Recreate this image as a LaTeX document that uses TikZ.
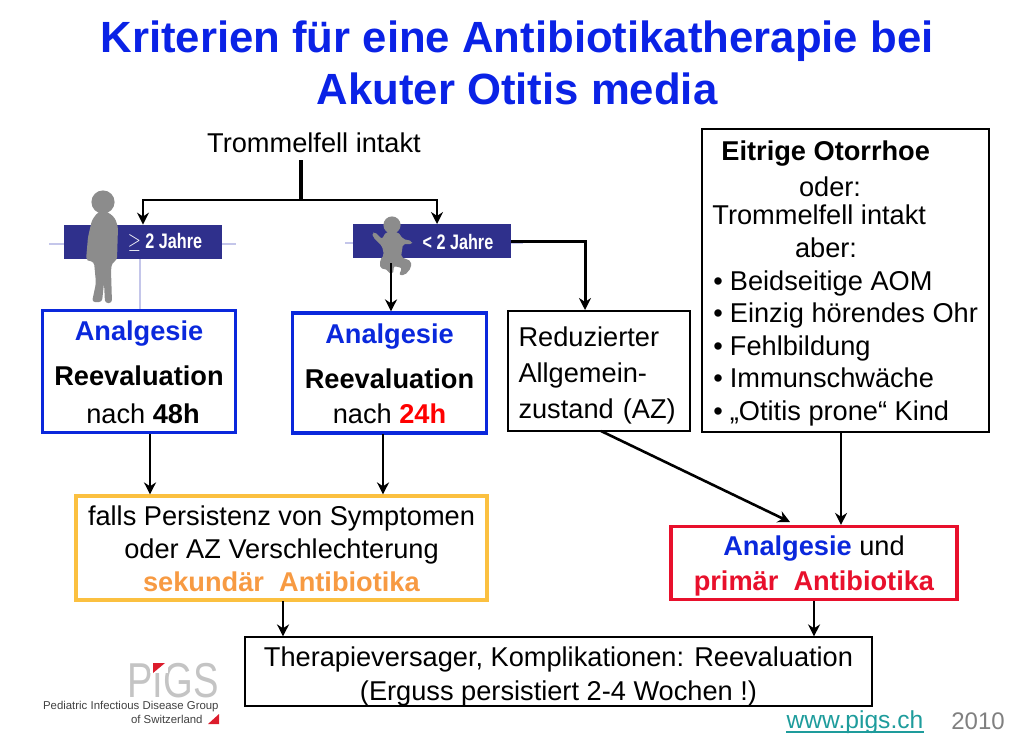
\documentclass[tikz,border=0pt]{standalone}
\usepackage{fontspec}
\setmainfont{Liberation Sans}
\usetikzlibrary{arrows.meta}
\definecolor{titleblue}{HTML}{0A22E6}
\definecolor{boxblue}{HTML}{0A28DC}
\definecolor{bannerblue}{HTML}{2F308C}
\definecolor{fadeblue}{HTML}{C4C6EA}
\definecolor{boxyellow}{HTML}{FBC040}
\definecolor{textorange}{HTML}{F79A42}
\definecolor{boxred}{HTML}{E8102C}
\definecolor{figgray}{HTML}{8C8C8C}
\definecolor{logogray}{HTML}{C4C4C4}
\definecolor{logored}{HTML}{DC1C2C}
\definecolor{linkteal}{HTML}{1E9C9C}
\newcommand{\pushdown}[1]{\rule{0pt}{\dimexpr 10pt+#1\relax}}
\tikzset{
    every node/.style={font=\fontsize{13.6}{16.5}\selectfont, inner sep=0pt},
    conn/.style={-{Stealth[length=6pt,width=6pt]}, line width=1.3pt, black},
    thinbox/.style={draw=black, line width=0.6pt},
    bluebox/.style={draw=boxblue, line width=1.6pt, align=center},
    banner/.style={fill=bannerblue, minimum width=79pt, minimum height=17pt, text=white},
    bannertext/.style={font=\fontsize{10.5}{12}\bfseries\selectfont, text=white}
}

\begin{document}
\begin{tikzpicture}[x=0.5pt, y=-0.5pt]
    \useasboundingbox (0,0) rectangle (1020,751);

    % Title
    \node[font=\fontsize{21.85}{26}\bfseries\selectfont, text=titleblue, align=center] (title) at (517,63)
        {Kriterien für eine Antibiotikatherapie bei\\Akuter Otitis media};
    \node (intakt) at (314,143) {Trommelfell intakt};

    % Age banners with their faded rules
    \draw[fadeblue, line width=0.8pt] (49,244) -- (236,244);
    \draw[fadeblue, line width=0.8pt] (345,243) -- (523,243);
    \draw[fadeblue, line width=1pt] (140,259) -- (140,309);
    \node[banner] (bannerold) at (143,242) {};
    \node[banner] (banneryoung) at (432,241) {};
    \node[bannertext] (labelold) at (165,242) {\scalebox{.77}[1]{$\geq$ 2 Jahre}};
    \node[bannertext] (labelyoung) at (458,242) {\scalebox{.77}[1]{< 2 Jahre}};

    % Child figure
    \fill[figgray] (103,202) circle (5.8pt);
    \fill[figgray, rounded corners=1.5pt] (98,212) -- (92,220) -- (88,237) -- (86,260) -- (90,261)
        -- (94,262) -- (96,283) -- (92,302) -- (102,302) -- (104,283) -- (105,303) -- (112,303)
        -- (111,270) -- (112,263) -- (117,260) -- (118,227) -- (115,218) -- (108,212) -- cycle;

    % Baby figure
    \fill[figgray] (392,225) circle (4.3pt);
    \fill[figgray, rounded corners=1pt] (386,232) -- (398,232) -- (403,239) -- (412,241) -- (412,244)
        -- (403,244) -- (401,257) -- (411,261) -- (411,268) -- (405,275) -- (399,275) -- (402,268)
        -- (394,266) -- (393,274) -- (389,274) -- (388,270) -- (380,268) -- (380,260) -- (384,255)
        -- (382,246) -- (373,237) -- (372,233) -- (375,232) -- (382,239) -- cycle;

    % Boxes
    \node[bluebox, minimum width=96.5pt, minimum height=61pt] (anala) at (139,371.5)
        {\pushdown{1pt}\textcolor{boxblue}{\textbf{Analgesie}}\\[6pt]\textbf{Reevaluation}\\[2.5pt]\hspace*{4pt}nach \textbf{48h}};
    \node[bluebox, minimum width=97pt, minimum height=60pt] (analb) at (389.5,373)
        {\pushdown{1pt}\textcolor{boxblue}{\textbf{Analgesie}}\\[6pt]\textbf{Reevaluation}\\[1pt]nach \textcolor{red}{\textbf{24h}}};
    \node[thinbox, minimum width=91pt, minimum height=60pt, text width=80.5pt, inner xsep=5pt, align=left,
        font=\fontsize{13.6}{18}\selectfont] (azbox) at (599,371)
        {\pushdown{4pt}Reduzierter\\Allgemein-\\zustand (AZ)};
    \node[thinbox, minimum width=143.5pt, minimum height=151.5pt] (otobox) at (845.5,280.5) {};
    \node[draw=boxyellow, line width=1.6pt, minimum width=205.5pt, minimum height=52pt, align=center] (persist) at (281.5,548)
        {\pushdown{1pt}falls Persistenz von Symptomen\\oder AZ Verschlechterung\\\textcolor{textorange}{\textbf{sekundär\ \ Antibiotika}}};
    \node[draw=boxred, line width=1.6pt, minimum width=143pt, minimum height=36.5pt, align=center,
        font=\fontsize{13.6}{17.5}\selectfont] (primaer) at (814,563)
        {\pushdown{3pt}\textcolor{boxblue}{\textbf{Analgesie}} und\\\textcolor{boxred}{\textbf{primär\ \ Antibiotika}}};
    \node[thinbox, minimum width=313.5pt, minimum height=34.5pt, align=center,
        font=\fontsize{13.6}{17}\selectfont] (versager) at (558.5,671.5)
        {\pushdown{4.5pt}Therapieversager, Komplikationen: Reevaluation\\(Erguss persistiert 2-4 Wochen !)};

    % Text of the right box
    \node[anchor=base west] (otohead) at (721,160) {\textbf{Eitrige Otorrhoe}};
    \node[anchor=base] (otoor) at (830,196) {oder:};
    \node[anchor=base west] (otointakt) at (712,224) {Trommelfell intakt};
    \node[anchor=base] (otobut) at (826,257) {aber:};
    \foreach \i/\y/\t in {a/290/Beidseitige AOM, b/322/Einzig hörendes Ohr, c/355/Fehlbildung, d/387/Immunschwäche, e/420/„Otitis prone“ Kind} {
        \node[anchor=base west] (oto\i) at (713,\y) {•\hspace{3.5pt}\t};
    }

    % Connectors
    \coordinate (stem) at (301,160);
    \coordinate (fork) at (301,200);
    \coordinate (forkright) at (437,224);
    \coordinate (azin) at (585,310);
    \coordinate (babyfoot) at (391,263);
    \coordinate (outa) at (150,434);
    \coordinate (outb) at (383,434);
    \coordinate (azout) at (601,431);
    \coordinate (primin) at (790,522);
    \coordinate (otoout) at (841,432);
    \coordinate (persout) at (283,601);
    \coordinate (primout) at (814,601);
    \draw[line width=2pt] (stem) -- (fork);
    \draw[conn] (fork) -| (bannerold.north);
    \draw[conn] (fork) -| (forkright);
    \draw[conn, line width=1.5pt] (banneryoung.east) -| (azin);
    \draw[conn] (babyfoot) -- (babyfoot |- analb.north);
    \draw[conn] (outa) -- (outa |- persist.north);
    \draw[conn] (outb) -- (outb |- persist.north);
    \draw[conn] (azout) -- (primin);
    \draw[conn] (otoout) -- (otoout |- primaer.north);
    \draw[conn] (persout) -- (persout |- versager.north);
    \draw[conn] (primout) -- (primout |- versager.north);

    % Logo
    \node[font=\fontsize{24.5}{26}\selectfont, text=logogray, text depth=0pt] (pigs) at (173,680) {\scalebox{.78}[1]{PIGS}};
    \fill[white] (150,660) rectangle (168,673);
    \fill[logored] (153,663) -- (165,663) -- (153,673) -- cycle;
    \node[font=\fontsize{5.7}{7}\selectfont, text=black!75, anchor=east] (group) at (219,707) {Pediatric Infectious Disease Group};
    \node[font=\fontsize{5.7}{7}\selectfont, text=black!75, anchor=east] (swiss) at (203,719) {of Switzerland};
    \fill[logored] (208,724) -- (219,724) -- (219,714) -- cycle;

    % Footer
    \node[font=\fontsize{12.3}{14}\selectfont, text=linkteal] (link) at (855,722) {www.pigs.ch};
    \draw[linkteal, line width=1pt] ([yshift=-2pt]link.base west) -- ([yshift=-2pt]link.base east);
    \node[font=\fontsize{12}{14}\selectfont, text=black!50] (year) at (978,721) {2010};
\end{tikzpicture}
\end{document}
